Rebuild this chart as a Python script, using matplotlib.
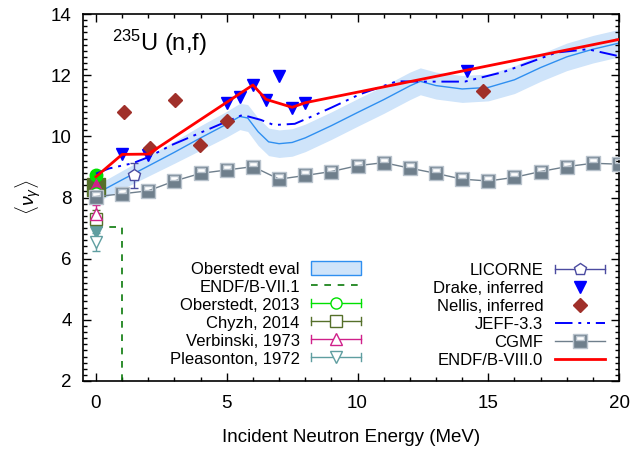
"""Average prompt fission gamma multiplicity for 235U(n,f) vs incident neutron energy."""

import matplotlib
matplotlib.use("Agg")
import matplotlib.pyplot as plt
import numpy as np
from matplotlib.lines import Line2D
from matplotlib.patches import Patch
from matplotlib.path import Path
from matplotlib.legend_handler import HandlerBase
from matplotlib.ticker import MultipleLocator

plt.rcParams['font.family'] = ['Liberation Sans', 'DejaVu Sans']
plt.rcParams['mathtext.fontset'] = 'custom'
plt.rcParams['mathtext.rm'] = 'Liberation Sans'
plt.rcParams['mathtext.it'] = 'Liberation Sans:italic'

# Oberstedt evaluation (centre and 1-sigma band)
ob_eval_e = [0, 1, 2, 3, 4, 5, 5.5, 5.8, 6.2, 6.6, 7, 7.5, 8, 9, 10, 11, 12, 12.4,
             13, 14, 15, 16, 17, 18, 19, 20]
ob_eval_nu = [8.12, 8.58, 9.03, 9.48, 9.95, 10.4, 10.65, 10.6, 10.15, 9.82, 9.76, 9.8,
              9.95, 10.35, 10.78, 11.2, 11.65, 11.8, 11.66, 11.55, 11.6, 11.85, 12.25,
              12.6, 12.85, 13.05]
ob_eval_err = [0.28, 0.3, 0.33, 0.36, 0.4, 0.42, 0.43, 0.44, 0.45, 0.45, 0.45, 0.45,
               0.45, 0.45, 0.45, 0.45, 0.45, 0.44, 0.44, 0.44, 0.44, 0.45, 0.45, 0.45,
               0.45, 0.45]

# ENDF/B-VII.1 (only defined to 1 MeV)
endf71_e = [0, 1, 1]
endf71_nu = [7.05, 7.05, 0.0]

# ENDF/B-VIII.0
endf80_e = [0, 1, 2, 6, 6.5, 7.5, 8, 20]
endf80_nu = [8.68, 9.41, 9.42, 11.68, 11.21, 10.95, 11.1, 13.17]

# JEFF-3.3
jeff_e = [0, 0.5, 1.4, 2, 2.9, 4.9, 5.6, 6.3, 6.8, 7.6, 8.3, 9, 10.1, 11.5, 12.5, 14.1,
          15.6, 17.6, 18.8, 20]
jeff_nu = [8.78, 8.95, 9.12, 9.32, 9.72, 10.45, 10.7, 10.54, 10.37, 10.41, 10.67, 10.94,
           11.38, 11.8, 11.79, 11.79, 12.11, 12.74, 12.85, 12.62]

# CGMF
cgmf_e = list(range(0, 21))
cgmf_nu = [8.03, 8.12, 8.22, 8.54, 8.79, 8.9, 9.01, 8.6, 8.72, 8.85, 9.04, 9.14, 8.96,
           8.79, 8.6, 8.54, 8.66, 8.85, 9.01, 9.12, 9.09]

# Drake, inferred
drake_e = [1, 2, 5, 5.5, 6, 6.5, 7, 7.5, 8, 14.2]
drake_nu = [9.41, 9.39, 11.08, 11.3, 11.68, 11.2, 11.97, 10.93, 11.08, 12.14]

# Nellis, inferred
nellis_e = [1.08, 2.07, 3.03, 3.98, 5.0, 14.8]
nellis_nu = [10.79, 9.63, 11.19, 9.71, 10.51, 11.48]

# LICORNE
licorne_e = [1.45]
licorne_nu = [8.72]
licorne_err = [0.42]

# thermal measurements
oberstedt_e = [0, 0]
oberstedt_nu = [8.74, 8.15]
chyzh_e = [0, 0]
chyzh_nu = [8.33, 7.3]
verbinski_e = [0, 0]
verbinski_nu = [8.41, 7.45]
verbinski_err = [0.05, 0.3]
pleasonton_e = [0, 0]
pleasonton_nu = [6.88, 6.55]
pleasonton_err = [0.05, 0.3]

BAND = '#cfe4fa'
CENTRE = '#2f8ff0'
GREEN = '#00e000'
OLIVE = '#55702a'
MAGENTA = '#d0208a'
TEAL = '#5f9ea0'
LIC = '#4b4ba0'
GRAY = '#6f7f8c'

# CGMF marker: a grey square with a small window near the top
cgmf_marker = Path(
    [(-1, -1), (1, -1), (1, 1), (-1, 1), (-1, -1),
     (-0.6, 0.2), (-0.6, 0.7), (0.6, 0.7), (0.6, 0.2), (-0.6, 0.2)],
    [Path.MOVETO, Path.LINETO, Path.LINETO, Path.LINETO, Path.CLOSEPOLY] * 2)


class HErrHandler(HandlerBase):
    """gnuplot-like legend entry: horizontal bar with end caps and a marker."""

    def create_artists(self, legend, orig_handle, xdescent, ydescent, width, height,
                       fontsize, trans):
        c = orig_handle.get_color()
        y = (height - ydescent) / 2.0
        x0, x1 = -xdescent, -xdescent + width
        h = height * 0.3
        arts = [Line2D([x0, x1], [y, y], color=c, lw=1),
                Line2D([x0, x0], [y - h, y + h], color=c, lw=1),
                Line2D([x1, x1], [y - h, y + h], color=c, lw=1),
                Line2D([(x0 + x1) / 2], [y], ls='none', marker=orig_handle.get_marker(),
                       ms=orig_handle.get_markersize(), mfc='white', mec=c, mew=1)]
        for a in arts:
            a.set_transform(trans)
        return arts


def thermal(ax, x, y, err, color, marker, ms_filled, ms_open):
    # first point drawn filled (overlapping measurements), second open with error bar
    ax.plot(x[:1], y[:1], ls='none', marker=marker, ms=ms_filled, color=color, zorder=3)
    ax.errorbar(x[1:], y[1:], yerr=err, fmt=marker, ms=ms_open, mfc='white', mec=color,
                ecolor=color, elinewidth=1, capsize=3, zorder=3)


def main():
    fig, ax = plt.subplots(figsize=(6.33, 4.53), dpi=100)
    fig.subplots_adjust(left=0.131, right=0.978, bottom=0.159, top=0.969)

    lo = np.array(ob_eval_nu) - np.array(ob_eval_err)
    hi = np.array(ob_eval_nu) + np.array(ob_eval_err)
    ax.fill_between(ob_eval_e, lo, hi, color=BAND, lw=0, zorder=1)
    ax.plot(ob_eval_e, ob_eval_nu, color=CENTRE, lw=1, zorder=2)

    ax.plot(endf71_e, endf71_nu, color='#0a7a0a', lw=1.2, ls=(0, (4, 4)), zorder=2)

    thermal(ax, chyzh_e, chyzh_nu, [0.3], OLIVE, 's', 13, 9)
    thermal(ax, oberstedt_e, oberstedt_nu, [0.05], GREEN, 'o', 9, 8)
    thermal(ax, verbinski_e, verbinski_nu, [verbinski_err[1]], MAGENTA, '^', 9, 9)
    thermal(ax, pleasonton_e, pleasonton_nu, [pleasonton_err[1]], TEAL, 'v', 9, 9)

    ax.errorbar(licorne_e, licorne_nu, yerr=licorne_err, fmt='p', ms=9, mfc='white',
                mec=LIC, ecolor=LIC, elinewidth=1, capsize=3, zorder=4)

    ax.plot(cgmf_e, cgmf_nu, color=GRAY, lw=1, marker=cgmf_marker, ms=10,
            mfc=GRAY, mec='#b8c2cc', mew=1, zorder=4)
    ax.plot(jeff_e, jeff_nu, color='#0000ff', lw=1.4,
            ls=(0, (9, 3, 1.5, 3, 1.5, 3)), zorder=5)
    ax.plot(drake_e, drake_nu, ls='none', marker='v', ms=8, color='#0000ff', zorder=5)
    ax.plot(nellis_e, nellis_nu, ls='none', marker='D', ms=7, color='#a0302a', zorder=5)
    ax.plot(endf80_e, endf80_nu, color='#ff0000', lw=2, zorder=6)

    ax.set_xlim(-0.5, 20)
    ax.set_ylim(2, 14)
    ax.xaxis.set_major_locator(MultipleLocator(5))
    ax.xaxis.set_minor_locator(MultipleLocator(1))
    ax.yaxis.set_major_locator(MultipleLocator(2))
    ax.yaxis.set_minor_locator(MultipleLocator(0.2))
    ax.tick_params(which='both', direction='in', top=True, right=True, labelsize=13.5)
    ax.tick_params(which='major', length=6, width=1, pad=8)
    ax.tick_params(axis='x', which='major', pad=10)
    ax.tick_params(which='minor', length=3, width=1)
    for s in ax.spines.values():
        s.set_linewidth(1.2)

    ax.set_xlabel('Incident Neutron Energy (MeV)', fontsize=13.5, labelpad=12)
    ax.set_ylabel(r'$\langle\nu_\gamma\rangle$', fontsize=14, labelpad=6)
    ax.text(0.055, 0.92, r'$^{235}$U (n,f)', transform=ax.transAxes, fontsize=17,
            va='center')

    leg_kw = dict(loc='upper right', frameon=False, markerfirst=False, fontsize=12,
                  borderpad=0, handlelength=3.0, handletextpad=0.7,
                  labelspacing=0.14, handleheight=0.9)

    # left legend
    h_band = Patch(facecolor=BAND, edgecolor=CENTRE, lw=1)
    h_71 = Line2D([], [], color='#0a7a0a', lw=1.2, ls=(0, (4, 4)))
    h_ob = Line2D([], [], color=GREEN, marker='o', ms=8)
    h_ch = Line2D([], [], color=OLIVE, marker='s', ms=9)
    h_ve = Line2D([], [], color=MAGENTA, marker='^', ms=9)
    h_pl = Line2D([], [], color=TEAL, marker='v', ms=9)
    hmap = {h: HErrHandler() for h in (h_ob, h_ch, h_ve, h_pl)}
    leg1 = ax.legend([h_band, h_71, h_ob, h_ch, h_ve, h_pl],
                     ['Oberstedt eval', 'ENDF/B-VII.1', 'Oberstedt, 2013', 'Chyzh, 2014',
                      'Verbinski, 1973', 'Pleasonton, 1972'],
                     handler_map=hmap, bbox_to_anchor=(0.535, 0.35), **leg_kw)
    ax.add_artist(leg1)

    # right legend
    h_lic = Line2D([], [], color=LIC, marker='p', ms=9)
    h_dr = Line2D([], [], ls='none', marker='v', ms=8, color='#0000ff')
    h_ne = Line2D([], [], ls='none', marker='D', ms=7, color='#a0302a')
    h_je = Line2D([], [], color='#0000ff', lw=1.4, ls=(0, (9, 3, 1.5, 3, 1.5, 3)))
    h_cg = Line2D([], [], color=GRAY, lw=1, marker=cgmf_marker, ms=10, mfc=GRAY,
                  mec='#b8c2cc', mew=1)
    h_80 = Line2D([], [], color='#ff0000', lw=2)
    ax.legend([h_lic, h_dr, h_ne, h_je, h_cg, h_80],
              ['LICORNE', 'Drake, inferred', 'Nellis, inferred', 'JEFF-3.3', 'CGMF',
               'ENDF/B-VIII.0'],
              handler_map={h_lic: HErrHandler()}, numpoints=1,
              bbox_to_anchor=(0.989, 0.345), **leg_kw)

    fig.savefig('out.png', dpi=100)


if __name__ == "__main__":
    main()
